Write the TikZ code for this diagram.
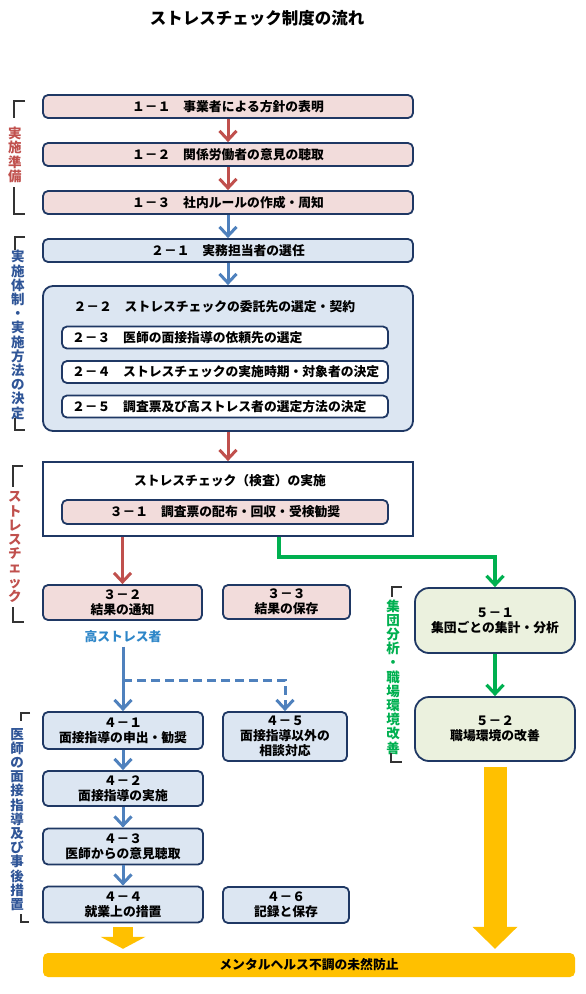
\documentclass[tikz,border=0pt]{standalone}
\usepackage{fontspec}
\setmainfont{Noto Sans CJK JP}
\usetikzlibrary{arrows.meta}

\definecolor{boxline}{HTML}{1F3864}
\definecolor{pinkfill}{HTML}{F2DCDB}
\definecolor{bluefill}{HTML}{DCE6F2}
\definecolor{greenfill}{HTML}{EBF1DE}
\definecolor{redline}{HTML}{C0504D}
\definecolor{blueline}{HTML}{4F81BD}
\definecolor{greenline}{HTML}{00B050}
\definecolor{goldfill}{HTML}{FFC000}
\definecolor{labblue}{HTML}{2F5597}
\definecolor{hsblue}{HTML}{2E86C8}

\newcommand{\boxfont}{\fontsize{12.8}{15}\selectfont\bfseries}

\begin{document}
\begin{tikzpicture}[x=1pt, y=-1pt, node distance=48pt]
        % Define styles
        \tikzstyle{pinkbox} = [rectangle, rounded corners=5pt, draw=boxline, line width=1.8pt, fill=pinkfill, minimum width=370pt, minimum height=23pt, inner sep=0pt, font=\boxfont, align=center]
        \tikzstyle{bluebox} = [pinkbox, fill=bluefill]
        \tikzstyle{whitebox} = [pinkbox, fill=white]
        \tikzstyle{greenbox} = [pinkbox, rounded corners=14pt, fill=greenfill, minimum width=160pt, minimum height=65pt]
        \tikzstyle{sidelabel} = [align=center, inner sep=0pt, font=\fontsize{13.5}{14.2}\selectfont\bfseries]
        \tikzstyle{bracket} = [line width=1.2pt, black!80]
        \tikzstyle{redarrow} = [line width=3pt, redline, -{Straight Barb[length=9pt,width=17pt]}]
        \tikzstyle{bluearrow} = [line width=3pt, blueline, -{Straight Barb[length=9pt,width=17pt]}]
        \tikzstyle{greenarrow} = [line width=3.2pt, greenline, -{Straight Barb[length=9pt,width=17pt]}]
        \tikzstyle{fatarrow} = [line width=20pt, goldfill, -{Triangle[length=12pt,width=45pt,line width=0pt]}]

        \useasboundingbox (0,0) rectangle (586,994);

        % Title
        \node (title) at (257,18) {\fontsize{16.5}{18}\selectfont\bfseries ストレスチェック制度の流れ};

        % Nodes
        \node (b11) [pinkbox] at (228,106.5) {１－１　事業者による方針の表明};
        \node (b12) [pinkbox, below of=b11] {１－２　関係労働者の意見の聴取};
        \node (b13) [pinkbox, below of=b12] {１－３　社内ルールの作成・周知};
        \node (b21) [bluebox, below of=b13] {２－１　実務担当者の選任};
        \node (b22) [bluebox, rounded corners=10pt, minimum height=145pt] at (228,358.5) {};
        \node (t22) [anchor=west, font=\boxfont] at (70,307) {２－２　ストレスチェックの委託先の選定・契約};
        \node (b23) [whitebox, minimum width=326pt, text width=306pt, inner xsep=10pt, align=left, minimum height=22pt] at (225,337.5) {２－３　医師の面接指導の依頼先の選定};
        \node (b24) [whitebox, minimum width=326pt, text width=306pt, inner xsep=10pt, align=left, minimum height=22pt] at (225,372) {２－４　ストレスチェックの実施時期・対象者の決定};
        \node (b25) [whitebox, minimum width=326pt, text width=306pt, inner xsep=10pt, align=left, minimum height=22pt] at (225,406.5) {２－５　調査票及び高ストレス者の選定方法の決定};

        \node (st) [whitebox, sharp corners, minimum height=74pt] at (228,499) {};
        \node (stt) [font=\boxfont] at (230,481) {ストレスチェック（検査）の実施};
        \node (b31) [pinkbox, minimum width=326pt, minimum height=24pt] at (225,512) {３－１　調査票の配布・回収・受検勧奨};
        \node (b32) [pinkbox, minimum width=159pt, minimum height=35pt] at (122.5,602.5) {３－２\\結果の通知};
        \node (b33) [pinkbox, minimum width=127pt, minimum height=34pt] at (286.5,602) {３－３\\結果の保存};

        \node (hs) [font=\boxfont, text=hsblue] at (123,637) {高ストレス者};
        \coordinate (dsplit) at (123,680);

        \node (b41) [bluebox, minimum width=160pt, minimum height=37pt] at (123,730.5) {４－１\\面接指導の申出・勧奨};
        \node (b42) [bluebox, minimum width=160pt, minimum height=35pt, below of=b41, node distance=58pt] {４－２\\面接指導の実施};
        \node (b43) [bluebox, minimum width=160pt, minimum height=36pt, below of=b42, node distance=58pt] {４－３\\医師からの意見聴取};
        \node (b44) [bluebox, minimum width=160pt, minimum height=36pt, below of=b43, node distance=58pt] {４－４\\就業上の措置};
        \node (b45) [bluebox, minimum width=124pt, minimum height=49pt] at (285,736.5) {４－５\\面接指導以外の\\相談対応};
        \node (b46) [bluebox, minimum width=126pt, minimum height=36pt] at (286,905) {４－６\\記録と保存};

        \coordinate (gbend) at (279,557);
        \node (b51) [greenbox] at (495,620.5) {５－１\\集団ごとの集計・分析};
        \node (b52) [greenbox, minimum height=64pt] at (495,729) {５－２\\職場環境の改善};

        \node (bar) [rectangle, rounded corners=5pt, fill=goldfill, minimum width=532pt, minimum height=24pt, inner sep=0pt, font=\boxfont] at (309,965) {メンタルヘルス不調の未然防止};

        % Side labels
        \node (lab1) [sidelabel, text=redline] at (15,155) {実\\施\\準\\備};
        \node (lab2) [sidelabel, text=labblue] at (18,335) {実\\施\\体\\制\\・\\実\\施\\方\\法\\の\\決\\定};
        \node (lab3) [sidelabel, text=redline] at (15,547) {ス\\ト\\レ\\ス\\チ\\ェ\\ッ\\ク};
        \node (lab4) [sidelabel, text=greenline] at (393,677) {集\\団\\分\\析\\・\\職\\場\\環\\境\\改\\善};
        \node (lab5) [sidelabel, text=labblue] at (17,819.5) {医\\師\\の\\面\\接\\指\\導\\及\\び\\事\\後\\措\\置};

        % Brackets
        \draw [bracket] (25,101) -| (14,118);
        \draw [bracket] (14,187) |- (25,214);
        \draw [bracket] (25,237) -| (15,250);
        \draw [bracket] (15,418) |- (25,430);
        \draw [bracket] (23,466) -| (13,487);
        \draw [bracket] (13,607) |- (24,622);
        \draw [bracket] (402,587) -| (392,597);
        \draw [bracket] (391,753) |- (402,762);
        \draw [bracket] (30,713) -| (21,721);
        \draw [bracket] (21,914) |- (29,922);

        % Arrows
        \draw [redarrow] (b11) -- (b12);
        \draw [redarrow] (b12) -- (b13);
        \draw [bluearrow] (b13) -- (b21);
        \draw [bluearrow] (b21) -- (b22);
        \draw [redarrow] (b22) -- (st);
        \draw [redarrow] (st.south -| b32.north) -- (b32.north);
        \draw [greenarrow] (st.south -| gbend) -- (gbend) -| (b51.north);
        \draw [greenarrow] (b51) -- (b52);
        \draw [bluearrow] (hs.south) -- (b41.north);
        \draw [bluearrow, dash pattern=on 9pt off 5pt] (dsplit) -| (b45.north);
        \draw [bluearrow] (b41) -- (b42);
        \draw [bluearrow] (b42) -- (b43);
        \draw [bluearrow] (b43) -- (b44);
        \draw [fatarrow, shorten <=4pt, shorten >=4pt] (b44.south) -- (b44.south |- bar.north);
        \draw [fatarrow, line width=23pt, -{Triangle[length=22pt,width=45pt,line width=0pt]}, shorten <=5pt, shorten >=4pt] (b52.south) -- (b52.south |- bar.north);
\end{tikzpicture}
\end{document}
